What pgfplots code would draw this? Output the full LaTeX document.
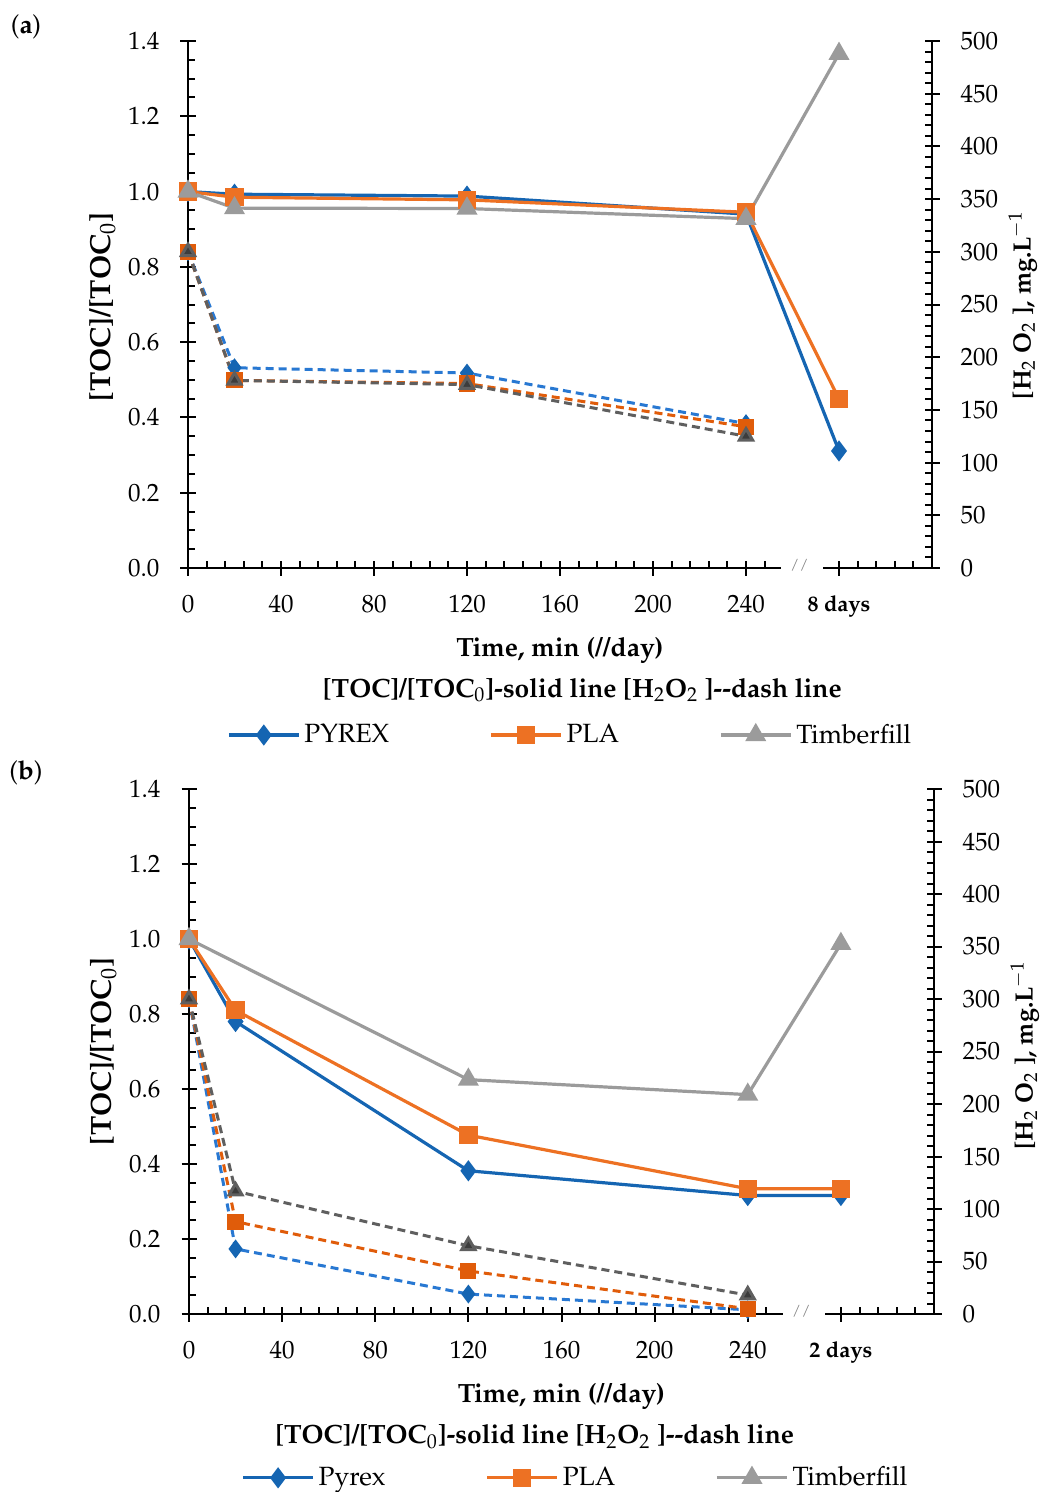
\documentclass[border=0pt]{standalone}
\usepackage[T1]{fontenc}
\usepackage{mathpazo}
\usepackage{pgfplots}
\pgfplotsset{compat=1.18}

\definecolor{cblue}{RGB}{21,101,178}
\definecolor{cblued}{RGB}{40,120,210}
\definecolor{corange}{RGB}{237,113,35}
\definecolor{coranged}{RGB}{224,92,10}
\definecolor{cgray}{RGB}{155,155,155}
\definecolor{cgrayd}{RGB}{95,95,95}
\definecolor{cgraym}{RGB}{60,60,60}

\pgfplotsset{
  base/.style={
    scale only axis, xmin=0, xmax=320,
    tick align=center, major tick length=7.5pt, minor tick length=3.5pt,
    axis line style={line width=1.2pt}, every tick/.style={black, line width=1pt},
    tick label style={font=\fontsize{12.5}{14}\selectfont},
    label style={font=\fontsize{13.2}{15}\selectfont\bfseries},
  },
  leftax/.style={
    base, clip=false,
    axis x line*=bottom, axis y line*=left,
    ymin=0, ymax=1.4, ytick={0,0.2,...,1.4}, minor y tick num=3,
    yticklabel style={/pgf/number format/fixed, /pgf/number format/fixed zerofill,
      /pgf/number format/precision=1, xshift=-7pt},
    xtick={0,40,...,240,280}, minor xtick={0,8,...,320},
    minor x tick style={yshift=1.75pt}, minor y tick style={xshift=1.75pt},
    xticklabel style={yshift=-6.5pt},
    ylabel={[TOC]/[TOC$_0$]},
    ylabel style={font=\fontsize{14.5}{16}\selectfont\bfseries, anchor=south},
    legend columns=3, legend cell align=left,
    legend image code/.code={\draw[mark repeat=2,mark phase=2] plot coordinates {(0pt,0pt) (17.5pt,0pt) (35pt,0pt)};},
    legend style={draw=none, fill=none, anchor=center, font=\fontsize{13.2}{15}\selectfont,
      /tikz/every even column/.append style={column sep=48pt}},
  },
  rightax/.style={
    base, hide x axis, axis y line*=right,
    ymin=0, ymax=500, ytick={0,50,...,500}, minor y tick num=4,
    minor y tick style={xshift=-1.75pt}, yticklabel style={xshift=7pt},
    ylabel={[H$_2$ O$_2$ ], mg.L$^{-1}$},
    ylabel style={font=\fontsize{12.5}{14}\selectfont\bfseries, anchor=north},
  },
  spyr/.style={color=cblue, line width=1.6pt, mark=diamond*, mark size=4pt, mark options={solid, fill=cblue}},
  spla/.style={color=corange, line width=1.6pt, mark=square*, mark size=3.8pt, mark options={solid, fill=corange}},
  stim/.style={color=cgray, line width=1.6pt, mark=triangle*, mark size=4.5pt, mark options={solid, fill=cgray}},
  dpyr/.style={color=cblued, line width=1.5pt, dash pattern=on 4pt off 2.5pt, mark=diamond*, mark size=3.5pt, mark options={solid, fill=cblue, draw=cblue}},
  dpla/.style={color=coranged, line width=1.5pt, dash pattern=on 4pt off 2.5pt, mark=square*, mark size=3.3pt, mark options={solid, fill=coranged, draw=coranged}},
  dtim/.style={color=cgrayd, line width=1.5pt, dash pattern=on 4pt off 2.5pt, mark=triangle*, mark size=3.8pt, mark options={solid, fill=cgraym, draw=cgrayd}},
}

\begin{document}
\begin{tikzpicture}
\path[use as bounding box] (0,0) rectangle (523pt,-746pt);

\node[font=\fontsize{13}{15}\selectfont] at (13pt,-13.5pt) {(\textbf{a})};
\node[font=\fontsize{13}{15}\selectfont] at (13pt,-386.5pt) {(\textbf{b})};

% ---------- panel (a)
\begin{axis}[leftax, at={(94pt,-284pt)}, anchor=south west, width=372pt, height=263.5pt,
  xticklabels={0,40,80,120,160,200,240,{\fontsize{11}{12}\selectfont\bfseries 8 days}},
  xlabel={Time, min (//day)}, xlabel style={at={(axis description cs:0.5,-0.156)}, anchor=center},
  ylabel style={at={(axis description cs:-0.088,0.495)}},
  legend style={at={(axis description cs:0.515,-0.317)}}]
\addplot[spyr] coordinates {(0,1.0) (20,0.993) (120,0.988) (240,0.94) (280,0.311)};
\addplot[spla] coordinates {(0,1.0) (20,0.985) (120,0.978) (240,0.945) (280,0.449)};
\addplot[stim] coordinates {(0,1.0) (20,0.956) (120,0.955) (240,0.928) (280,1.366)};
\legend{PYREX, PLA, Timberfill}
\node[font=\fontsize{13.2}{15}\selectfont\bfseries] at (axis description cs:0.53,-0.2315)
  {[TOC]/[TOC$_0$]-solid line [H$_2$O$_2$ ]-{}-dash line};
\end{axis}
\begin{axis}[rightax, clip=false, at={(94pt,-284pt)}, anchor=south west, width=372pt, height=263.5pt,
  ylabel style={at={(axis description cs:1.093,0.499)}}]
\addplot[dpyr] coordinates {(0,300) (20,190) (120,185) (240,137)};
\addplot[dpla] coordinates {(0,300) (20,178) (120,175) (240,134)};
\addplot[dtim] coordinates {(0,300) (20,178) (120,174) (240,125)};
\fill[white] (axis cs:255,-10) rectangle (axis cs:273,9);
\node[text=gray, font=\fontsize{7}{8}\selectfont] at (axis cs:263,3) {/\kern0.5pt/};
\end{axis}

% ---------- panel (b)
\begin{axis}[leftax, at={(94.5pt,-657pt)}, anchor=south west, width=372.5pt, height=262.5pt,
  xticklabels={0,40,80,120,160,200,240,{\fontsize{11}{12}\selectfont\bfseries 2 days}},
  xlabel={Time, min (//day)}, xlabel style={at={(axis description cs:0.5,-0.156)}, anchor=center},
  ylabel style={at={(axis description cs:-0.088,0.5)}},
  legend style={at={(axis description cs:0.52,-0.312)}}]
\addplot[spyr] coordinates {(0,1.0) (20,0.78) (120,0.382) (240,0.316) (280,0.316)};
\addplot[spla] coordinates {(0,1.0) (20,0.81) (120,0.477) (240,0.334) (280,0.334)};
\addplot[stim] coordinates {(0,1.0) (120,0.625) (240,0.585) (280,0.987)};
\legend{Pyrex, PLA, Timberfill}
\node[font=\fontsize{13.2}{15}\selectfont\bfseries] at (axis description cs:0.464,-0.234)
  {[TOC]/[TOC$_0$]-solid line [H$_2$O$_2$ ]-{}-dash line};
\end{axis}
\begin{axis}[rightax, clip=false, at={(94.5pt,-657pt)}, anchor=south west, width=372.5pt, height=262.5pt,
  ylabel style={at={(axis description cs:1.093,0.493)}}]
\addplot[dpyr] coordinates {(0,300) (20,62) (120,19) (240,4)};
\addplot[dpla] coordinates {(0,300) (20,88) (120,41) (240,5)};
\addplot[dtim] coordinates {(0,300) (20,117) (120,65) (240,18)};
\fill[white] (axis cs:255,-10) rectangle (axis cs:273,9);
\node[text=gray, font=\fontsize{7}{8}\selectfont] at (axis cs:263,3) {/\kern0.5pt/};
\end{axis}
\end{tikzpicture}
\end{document}
